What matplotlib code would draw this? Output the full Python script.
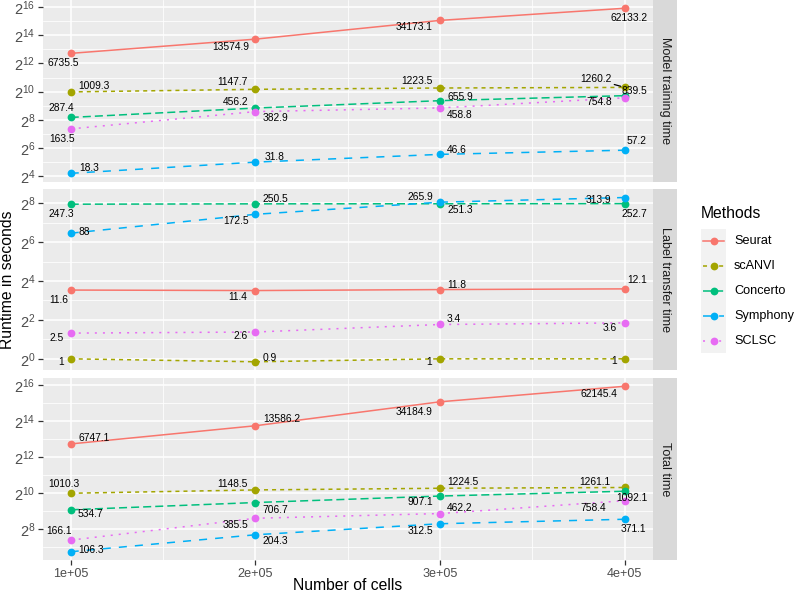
import numpy as np
import matplotlib
matplotlib.use("Agg")
import matplotlib.pyplot as plt
from matplotlib.patches import Rectangle
from matplotlib.lines import Line2D
from matplotlib.ticker import NullFormatter

plt.rcParams['font.family'] = ['Liberation Sans', 'DejaVu Sans']
plt.rcParams['mathtext.fontset'] = 'custom'
plt.rcParams['mathtext.rm'] = 'Liberation Sans'
plt.rcParams['mathtext.it'] = 'Liberation Sans:italic'
plt.rcParams['lines.scale_dashes'] = False

# data
cells = [1e5, 2e5, 3e5, 4e5]
cell_labels = ['1e+05', '2e+05', '3e+05', '4e+05']
methods = ['Seurat', 'scANVI', 'Concerto', 'Symphony', 'SCLSC']
facets = ['Model training time', 'Label transfer time', 'Total time']

train_time = {
    'Seurat':   [6735.5, 13574.9, 34173.1, 62133.2],
    'scANVI':   [1009.3, 1147.7, 1223.5, 1260.2],
    'Concerto': [287.4, 456.2, 655.9, 839.5],
    'Symphony': [18.3, 31.8, 46.6, 57.2],
    'SCLSC':    [163.5, 382.9, 458.8, 754.8],
}
transfer_time = {
    'Seurat':   [11.6, 11.4, 11.8, 12.1],
    'scANVI':   [1, 0.9, 1, 1],
    'Concerto': [247.3, 250.5, 251.3, 252.7],
    'Symphony': [88, 172.5, 265.9, 313.9],
    'SCLSC':    [2.5, 2.6, 3.4, 3.6],
}
total_time = {
    'Seurat':   [6747.1, 13586.2, 34184.9, 62145.4],
    'scANVI':   [1010.3, 1148.5, 1224.5, 1261.1],
    'Concerto': [534.7, 706.7, 907.1, 1092.1],
    'Symphony': [106.3, 204.3, 312.5, 371.1],
    'SCLSC':    [166.1, 385.5, 462.2, 758.4],
}
panel_data = [train_time, transfer_time, total_time]

# styles
colors = {'Seurat': '#F8766D', 'scANVI': '#A3A500', 'Concerto': '#00BF7D',
          'Symphony': '#00B0F6', 'SCLSC': '#E76BF3'}
u = 1.45
dashes = {'Seurat': '-', 'scANVI': (0, (2*u, 2*u)), 'Concerto': (0, (4*u, 2*u)),
          'Symphony': (0, (4*u, 4*u)), 'SCLSC': (0, (1*u, 3*u))}

# label offsets in pixels (dx right, dy down), ggrepel-like placement
label_off = [
    {'Seurat': [(-7, 10), (-25, 8), (-26, 7), (4, 10)],
     'scANVI': [(23, -6), (-23, -7), (-23, -7), (-29, -8)],
     'Concerto': [(-9, -9), (-20, -6), (20, -4), (10, -5)],
     'Symphony': [(18, -5), (19, -5), (17, -4), (12, -9)],
     'SCLSC': [(-9, 10), (20, 6), (20, 7), (-26, 4)]},
    {'Seurat': [(-12, 10), (-18, 6), (17, -5), (12, -9)],
     'scANVI': [(-10, 3), (14, -4), (-11, 3), (-11, 2)],
     'Concerto': [(-9, 10), (20, -5), (20, 6), (10, 10)],
     'Symphony': [(14, -1), (-19, 7), (-20, -5), (-26, 2)],
     'SCLSC': [(-14, 5), (-15, 4), (14, -5), (-15, 5)]},
    {'Seurat': [(23, -6), (26, -7), (-26, 10), (-26, 8)],
     'scANVI': [(-7, -9), (-23, -6), (23, -6), (-30, -5)],
     'Concerto': [(20, 4), (20, 7), (-20, 6), (7, 7)],
     'Symphony': [(20, -2), (20, 6), (-20, 7), (9, 10)],
     'SCLSC': [(-12, -9), (-20, 7), (20, -6), (-32, 7)]},
]

W, H = 795, 595
fig = plt.figure(figsize=(W/100, H/100), dpi=100)

panel_y = [(0, 181.6), (189.3, 370), (378, 560)]
px_left, px_right, strip_right = 43, 652.5, 677

def fx(px):
    return px / W

for i, (data, (top, bot)) in enumerate(zip(panel_data, panel_y)):
    ax = fig.add_axes([fx(px_left), 1 - bot/H, fx(px_right - px_left), (bot - top)/H])
    ax.set_facecolor('#EBEBEB')
    for s in ax.spines.values():
        s.set_visible(False)
    ax.set_yscale('log', base=2)

    allv = np.concatenate([np.array(v, dtype=float) for v in data.values()])
    lo, hi = np.log2(allv.min()), np.log2(allv.max())
    pad = 0.05 * (hi - lo)
    ax.set_ylim(2**(lo - pad), 2**(hi + pad))
    ax.set_xlim(0.85e5, 4.15e5)

    kmin, kmax = int(np.ceil(lo - pad)), int(np.floor(hi + pad))
    major = [k for k in range(kmin, kmax + 1) if k % 2 == 0]
    minor = [k for k in range(kmin, kmax + 1) if k % 2 != 0]
    ax.set_yticks([2.0**k for k in major])
    ax.set_yticklabels([r'$2^{%d}$' % k for k in major])
    ax.set_yticks([2.0**k for k in minor], minor=True)
    ax.yaxis.set_minor_formatter(NullFormatter())
    ax.set_xticks(cells)
    ax.set_xticks([1.5e5, 2.5e5, 3.5e5], minor=True)
    ax.xaxis.set_minor_formatter(NullFormatter())
    if i == 2:
        ax.set_xticklabels(cell_labels)
    else:
        ax.set_xticklabels([])
    ax.grid(which='major', color='white', lw=1.1)
    ax.grid(which='minor', color='white', lw=0.55)
    ax.set_axisbelow(True)
    ax.tick_params(which='major', length=3.5, width=0.9, color='#333333',
                   labelcolor='#4D4D4D', labelsize=10.5, pad=2)
    ax.tick_params(axis='x', labelsize=9.1)
    ax.tick_params(which='minor', length=0)
    if i != 2:
        ax.tick_params(axis='x', length=0)

    for m in methods:
        ax.plot(cells, data[m], color=colors[m], linestyle=dashes[m], lw=1.1,
                marker='o', markersize=5.6, markeredgewidth=0, zorder=3)
        for j, (x, v) in enumerate(zip(cells, data[m])):
            dx, dy = label_off[i][m][j]
            kw = {}
            if i == 0 and m == 'scANVI' and j == 3:
                kw['arrowprops'] = dict(arrowstyle='-', color='black', lw=0.9,
                                        shrinkA=0, shrinkB=3)
            ax.annotate('%g' % v, xy=(x, v), xytext=(dx, -dy), textcoords='offset pixels',
                        ha='center', va='center', fontsize=7.4, color='black', zorder=4, **kw)

    # facet strip
    sax = fig.add_axes([fx(px_right), 1 - bot/H, fx(strip_right - px_right), (bot - top)/H])
    sax.set_facecolor('#D9D9D9')
    sax.set_xticks([])
    sax.set_yticks([])
    for s in sax.spines.values():
        s.set_visible(False)
    sax.text(0.5, 0.5, facets[i], rotation=-90, ha='center', va='center',
             fontsize=9.1, color='#1A1A1A', transform=sax.transAxes)

# overlay in pixel coordinates for titles and legend
ov = fig.add_axes([0, 0, 1, 1])
ov.set_xlim(0, W)
ov.set_ylim(H, 0)
ov.axis('off')
ov.patch.set_visible(False)

ov.text(8, 280, 'Runtime in seconds', rotation=90, ha='center', va='center',
        fontsize=11.3, color='black')
ov.text(347.5, 585, 'Number of cells', ha='center', va='center', fontsize=11.3, color='black')

ov.text(701, 213, 'Methods', ha='left', va='center', fontsize=11.3, color='black')
key_top, key_h = 229, 24.8
ov.add_patch(Rectangle((701, key_top), 25, key_h * len(methods), facecolor='#F2F2F2',
                       edgecolor='none'))
for k, m in enumerate(methods):
    yc = key_top + key_h * (k + 0.5)
    ov.add_line(Line2D([703, 724], [yc, yc], color=colors[m], linestyle=dashes[m], lw=1.1))
    ov.plot([713.5], [yc], marker='o', color=colors[m], markersize=5.6, markeredgewidth=0)
    ov.text(734, yc, m, ha='left', va='center', fontsize=9.1, color='black')

fig.savefig('out.png', dpi=100)
